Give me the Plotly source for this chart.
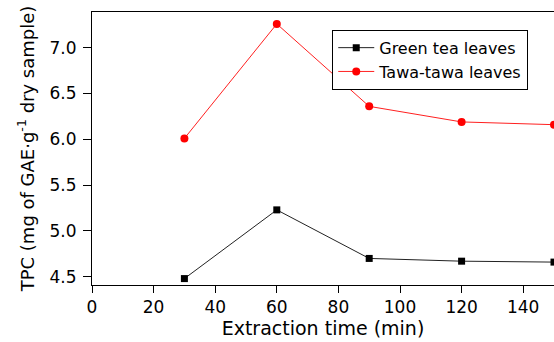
import plotly.graph_objects as go

time_min = [30, 60, 90, 120, 150]
green_tea = [4.48, 5.23, 4.70, 4.67, 4.66]
tawa_tawa = [6.01, 7.26, 6.36, 6.19, 6.16]
x_ticks = [0, 20, 40, 60, 80, 100, 120, 140]
y_ticks = [4.5, 5.0, 5.5, 6.0, 6.5, 7.0]

FONT = "DejaVu Sans, Liberation Sans, Arial, sans-serif"

fig = go.Figure()
fig.add_trace(go.Scatter(
    x=time_min, y=green_tea, name="Green tea leaves", mode="lines+markers",
    line=dict(color="#222222", width=1),
    marker=dict(symbol="square", color="black", size=7)))
fig.add_trace(go.Scatter(
    x=time_min, y=tawa_tawa, name="Tawa-tawa leaves", mode="lines+markers",
    line=dict(color="#ff2020", width=1),
    marker=dict(symbol="circle", color="red", size=8)))

fig.update_layout(
    width=554, height=342,
    margin=dict(l=92, r=0, t=12, b=57),
    paper_bgcolor="white", plot_bgcolor="white",
    font=dict(family=FONT, size=16, color="black"),
    showlegend=True,
    legend=dict(x=0.52, y=0.935, xanchor="left", yanchor="top",
                bordercolor="black", borderwidth=1, bgcolor="white",
                font=dict(size=16, family=FONT), tracegroupgap=0,
                itemwidth=36),
)
fig.update_xaxes(
    range=[0, 150], tickvals=x_ticks, ticks="outside", ticklen=7,
    tickcolor="black", showline=True, linecolor="black", linewidth=1,
    mirror=True, showgrid=False, zeroline=False,
    title=dict(text="Extraction time (min)", font=dict(size=19), standoff=2),
    tickfont=dict(size=17))
fig.update_yaxes(
    range=[4.41, 7.39], tickvals=y_ticks, tickformat=".1f", ticks="outside",
    ticklen=8, tickcolor="black", showline=True, linecolor="black",
    linewidth=1, showgrid=False, zeroline=False, ticklabelstandoff=3,
    title=dict(text="TPC (mg of GAE·g<sup>-1</sup> dry sample)",
               font=dict(size=18), standoff=10),
    tickfont=dict(size=17))

fig.write_html("out.html")
